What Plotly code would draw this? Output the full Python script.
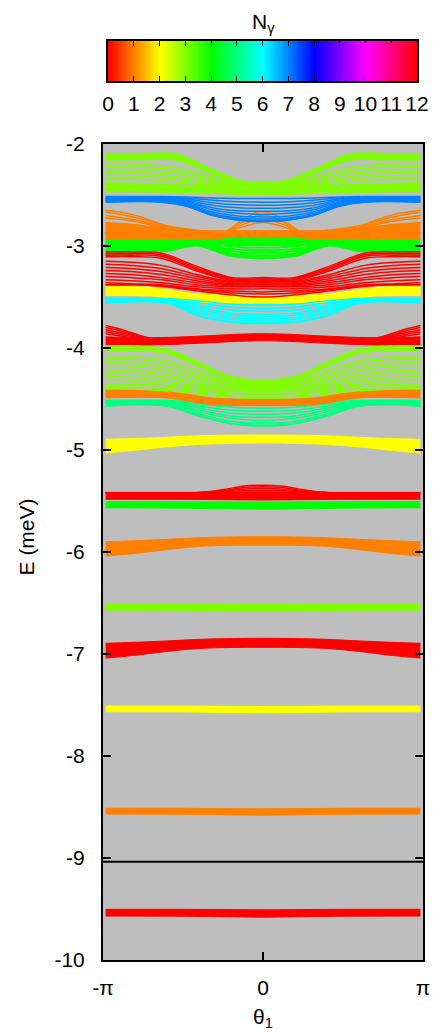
import numpy as np
import plotly.graph_objects as go
from plotly.colors import sample_colorscale

# ---------------- colour scale (N_gamma) ----------------
N_TICKS = list(range(13))
HUES = ['rgb(255,0,0)', 'rgb(255,128,0)', 'rgb(255,255,0)', 'rgb(128,255,0)',
        'rgb(0,255,0)', 'rgb(0,255,128)', 'rgb(0,255,255)', 'rgb(0,128,255)',
        'rgb(0,0,255)', 'rgb(128,0,255)', 'rgb(255,0,255)', 'rgb(255,0,128)',
        'rgb(255,0,0)']
COLORSCALE = [[n / 12, c] for n, c in zip(N_TICKS, HUES)]

E_TICKS = [-10, -9, -8, -7, -6, -5, -4, -3, -2]
E_TICKTEXT = ['-10', '-9', '-8', '-7', '-6', '-5', '-4', '-3', '-2']
THETA_TICKS = [-np.pi, 0.0, np.pi]
THETA_TICKTEXT = ['-π', '0', 'π']
SEPARATOR_E = -9.036

# ------------- bands: E (meV) read at theta knots (theta >= 0, edge -> centre) -------------
# band A, N=3
A_N = 3
A_knots = [3.09, 2.4, 1.7, 1.0, 0.4, 0.0]
A_lines = [
    [-2.095, -2.095, -2.10, -2.25, -2.365, -2.37],
    [-2.105, -2.105, -2.11, -2.26, -2.37, -2.375],
    [-2.115, -2.115, -2.12, -2.265, -2.375, -2.38],
    [-2.125, -2.125, -2.13, -2.27, -2.38, -2.385],
    [-2.135, -2.135, -2.14, -2.275, -2.385, -2.39],
    [-2.145, -2.145, -2.15, -2.28, -2.39, -2.395],
    [-2.155, -2.155, -2.16, -2.29, -2.395, -2.40],
    [-2.19, -2.195, -2.23, -2.32, -2.40, -2.405],
    [-2.22, -2.225, -2.26, -2.34, -2.405, -2.41],
    [-2.25, -2.255, -2.29, -2.36, -2.41, -2.415],
    [-2.28, -2.285, -2.32, -2.38, -2.415, -2.42],
    [-2.31, -2.315, -2.345, -2.395, -2.42, -2.425],
    [-2.34, -2.345, -2.37, -2.41, -2.43, -2.43],
]
A_core_top = [-2.38, -2.385, -2.40, -2.42, -2.435, -2.44]
A_core_bot = [-2.47, -2.47, -2.475, -2.485, -2.495, -2.50]

# band B, N=7
B_N = 7
B_knots = [3.09, 2.0, 1.5, 1.0, 0.5, 0.0]
B_lines = [
    [-2.515, -2.515, -2.52, -2.53, -2.535, -2.535],
    [-2.52, -2.52, -2.53, -2.55, -2.565, -2.57],
    [-2.525, -2.525, -2.54, -2.575, -2.595, -2.60],
    [-2.53, -2.53, -2.55, -2.60, -2.625, -2.63],
    [-2.54, -2.54, -2.56, -2.625, -2.655, -2.66],
    [-2.545, -2.545, -2.57, -2.645, -2.68, -2.69],
    [-2.55, -2.55, -2.58, -2.665, -2.705, -2.715],
    [-2.555, -2.555, -2.59, -2.68, -2.725, -2.735],
    [-2.56, -2.56, -2.60, -2.69, -2.735, -2.75],
    [-2.565, -2.565, -2.605, -2.70, -2.745, -2.76],
    [-2.57, -2.57, -2.61, -2.70, -2.745, -2.76],
]

# band C, N=1
C_N = 1
C_knots = [3.09, 2.5, 1.9, 1.2, 0.6, 0.0]
C_lines = [
    [-2.65, -2.70, -2.80, -2.85, -2.86, -2.86],
    [-2.67, -2.72, -2.81, -2.85, -2.86, -2.86],
    [-2.70, -2.745, -2.82, -2.855, -2.865, -2.865],
    [-2.725, -2.76, -2.83, -2.86, -2.87, -2.87],
]
C_core_top = [-2.77, -2.79, -2.83, -2.855, -2.85, -2.85]
C_core_bot = [-2.94, -2.94, -2.945, -2.95, -2.95, -2.95]
C_arch_knots = [3.09, 0.8, 0.45, 0.15, 0.0]
C_arches = [
    [-2.87, -2.87, -2.76, -2.675, -2.665],
    [-2.87, -2.87, -2.78, -2.71, -2.70],
    [-2.87, -2.87, -2.80, -2.745, -2.735],
    [-2.88, -2.88, -2.82, -2.78, -2.77],
]

# band D, N=4
D_N = 4
D_knots = [3.09, 2.5, 1.9, 1.3, 0.7, 0.3, 0.0]
D_lines = [
    [-2.95, -2.95, -2.95, -2.95, -2.935, -2.925, -2.92],
    [-2.965, -2.965, -2.96, -2.955, -2.95, -2.945, -2.945],
    [-2.98, -2.98, -2.975, -2.96, -2.965, -2.97, -2.97],
    [-2.995, -2.995, -2.985, -2.965, -2.98, -2.99, -2.99],
    [-3.01, -3.01, -3.00, -2.97, -3.00, -3.015, -3.015],
    [-3.025, -3.025, -3.01, -2.975, -3.025, -3.04, -3.04],
    [-3.04, -3.04, -3.02, -2.98, -3.045, -3.065, -3.065],
    [-3.055, -3.05, -3.03, -2.985, -3.065, -3.09, -3.09],
    [-3.07, -3.065, -3.04, -2.99, -3.08, -3.105, -3.11],
    [-3.085, -3.075, -3.05, -2.995, -3.09, -3.115, -3.12],
]

# band E, N=0
E_N = 0
E_knots = [3.09, 2.6, 2.0, 1.3, 0.6, 0.0]
E_lines = [
    [-3.06, -3.06, -3.07, -3.20, -3.31, -3.31],
    [-3.075, -3.075, -3.085, -3.215, -3.32, -3.32],
    [-3.09, -3.09, -3.10, -3.23, -3.33, -3.33],
    [-3.105, -3.105, -3.12, -3.245, -3.34, -3.34],
    [-3.15, -3.16, -3.19, -3.28, -3.35, -3.35],
    [-3.18, -3.19, -3.22, -3.30, -3.36, -3.36],
    [-3.21, -3.22, -3.25, -3.32, -3.37, -3.37],
    [-3.24, -3.25, -3.28, -3.34, -3.38, -3.38],
    [-3.27, -3.28, -3.31, -3.36, -3.39, -3.39],
    [-3.30, -3.31, -3.33, -3.38, -3.40, -3.40],
    [-3.33, -3.34, -3.36, -3.40, -3.42, -3.42],
    [-3.36, -3.37, -3.38, -3.42, -3.44, -3.45],
    [-3.38, -3.38, -3.39, -3.43, -3.46, -3.47],
    [-3.38, -3.38, -3.395, -3.44, -3.48, -3.50],
]

# band F, N=2
F_N = 2
F_knots = [3.09, 2.2, 1.3, 0.5, 0.0]
F_lines = [
    [-3.405, -3.41, -3.475, -3.49, -3.49],
    [-3.42, -3.425, -3.49, -3.505, -3.505],
    [-3.435, -3.44, -3.505, -3.52, -3.52],
    [-3.45, -3.455, -3.52, -3.535, -3.535],
    [-3.465, -3.47, -3.53, -3.545, -3.545],
    [-3.48, -3.485, -3.54, -3.555, -3.555],
]

# band G, N=6
G_N = 6
G_knots = [3.09, 1.9, 1.24, 0.6, 0.0]
G_lines = [
    [-3.515, -3.515, -3.54, -3.57, -3.575],
    [-3.52, -3.52, -3.56, -3.60, -3.61],
    [-3.525, -3.525, -3.58, -3.63, -3.64],
    [-3.53, -3.53, -3.60, -3.66, -3.67],
    [-3.54, -3.54, -3.62, -3.68, -3.695],
    [-3.545, -3.545, -3.64, -3.70, -3.715],
    [-3.55, -3.55, -3.66, -3.72, -3.735],
    [-3.555, -3.555, -3.68, -3.74, -3.75],
    [-3.56, -3.56, -3.69, -3.75, -3.76],
]

# band H, N=0
H_N = 0
H_knots = [3.09, 2.2, 1.3, 0.5, 0.0]
H_core_top = [-3.89, -3.90, -3.885, -3.865, -3.86]
H_core_bot = [-3.97, -3.97, -3.955, -3.935, -3.93]
H_fan_knots = [3.09, 2.7, 2.2, 1.3, 0.0]
H_fan = [
    [-3.78, -3.83, -3.905, -3.905, -3.89],
    [-3.80, -3.845, -3.91, -3.91, -3.895],
    [-3.82, -3.86, -3.915, -3.915, -3.90],
    [-3.84, -3.875, -3.92, -3.92, -3.905],
    [-3.86, -3.89, -3.925, -3.925, -3.91],
]

# band I, N=3
I_N = 3
I_knots = [3.09, 2.5, 1.9, 1.3, 0.7, 0.3, 0.0]
I_lines = [
    [-3.98, -3.98, -4.01, -4.13, -4.27, -4.31, -4.31],
    [-3.995, -3.995, -4.025, -4.145, -4.28, -4.32, -4.32],
    [-4.01, -4.01, -4.04, -4.16, -4.29, -4.33, -4.33],
    [-4.025, -4.025, -4.055, -4.175, -4.30, -4.34, -4.34],
    [-4.07, -4.08, -4.12, -4.22, -4.32, -4.35, -4.35],
    [-4.10, -4.11, -4.15, -4.25, -4.33, -4.36, -4.36],
    [-4.14, -4.15, -4.19, -4.28, -4.35, -4.37, -4.37],
    [-4.17, -4.18, -4.22, -4.30, -4.36, -4.38, -4.38],
    [-4.21, -4.22, -4.26, -4.33, -4.38, -4.39, -4.39],
    [-4.24, -4.25, -4.29, -4.35, -4.39, -4.40, -4.40],
    [-4.28, -4.29, -4.32, -4.37, -4.41, -4.42, -4.42],
    [-4.31, -4.32, -4.35, -4.39, -4.42, -4.43, -4.43],
    [-4.35, -4.355, -4.37, -4.41, -4.44, -4.45, -4.45],
    [-4.38, -4.385, -4.40, -4.43, -4.46, -4.47, -4.47],
    [-4.40, -4.405, -4.42, -4.45, -4.48, -4.49, -4.49],
]

# band J, N=1
J_N = 1
J_knots = [3.09, 1.9, 1.0, 0.0]
J_top = [-4.41, -4.42, -4.49, -4.50]
J_bot = [-4.49, -4.49, -4.555, -4.565]

# band K, N=5
K_N = 5
K_knots = [3.09, 1.9, 1.24, 0.6, 0.0]
K_lines = [
    [-4.515, -4.515, -4.53, -4.55, -4.555],
    [-4.52, -4.52, -4.55, -4.58, -4.59],
    [-4.53, -4.53, -4.57, -4.61, -4.62],
    [-4.535, -4.535, -4.59, -4.64, -4.65],
    [-4.545, -4.545, -4.61, -4.67, -4.68],
    [-4.55, -4.55, -4.63, -4.69, -4.71],
    [-4.56, -4.56, -4.65, -4.72, -4.735],
    [-4.565, -4.565, -4.665, -4.74, -4.755],
    [-4.57, -4.57, -4.67, -4.745, -4.765],
]

# wide arched bands (L: N=2, O: N=1, Q: N=0)
ARCH_knots = [3.09, 2.55, 1.89, 1.24, 0.58, 0.0]
L_N = 2
L_top = [-4.895, -4.888, -4.875, -4.86, -4.854, -4.853]
L_bot = [-5.03, -5.005, -4.97, -4.945, -4.935, -4.93]
O_N = 1
O_top = [-5.899, -5.89, -5.876, -5.86, -5.852, -5.85]
O_bot = [-6.04, -6.016, -5.977, -5.944, -5.934, -5.933]
Q_N = 0
Q_top = [-6.895, -6.886, -6.872, -6.856, -6.848, -6.846]
Q_bot = [-7.04, -7.015, -6.975, -6.945, -6.936, -6.934]

# band M, N=0
M_N = 0
M_knots = [3.09, 1.3, 0.0]
M_top = [-5.415, -5.415, -5.41]
M_bot = [-5.483, -5.485, -5.49]
M_arch_knots = [3.09, 1.3, 0.8, 0.4, 0.0]
M_arches = [
    [-5.42, -5.42, -5.39, -5.355, -5.345],
    [-5.42, -5.42, -5.40, -5.37, -5.36],
    [-5.42, -5.42, -5.405, -5.385, -5.375],
    [-5.42, -5.42, -5.41, -5.40, -5.395],
]

# thin flat bands
FLAT_knots = [3.09, 1.5, 0.0]
N_N = 4
N_top = [-5.507, -5.507, -5.51]
N_bot = [-5.566, -5.57, -5.58]
P_N = 3
P_top = [-6.51, -6.51, -6.515]
P_bot = [-6.57, -6.572, -6.58]
R_N = 2
R_top = [-7.51, -7.51, -7.515]
R_bot = [-7.566, -7.568, -7.577]
S_N = 1
S_top = [-8.513, -8.513, -8.518]
S_bot = [-8.569, -8.571, -8.58]
T_N = 0
T_top = [-9.503, -9.503, -9.508]
T_bot = [-9.569, -9.571, -9.58]

# colour-bar gradient samples
CB_X = np.linspace(0, 12, 241)


def colour(n):
    return sample_colorscale(COLORSCALE, [n / 12])[0]


def mirror(knots, vals):
    xs = [-k for k in knots] + list(reversed(knots))[1:]
    ys = list(vals) + list(reversed(vals))[1:]
    return xs, ys


fig = go.Figure()

fig.add_trace(go.Heatmap(x=CB_X, y=[0, 1], z=[CB_X, CB_X], colorscale=COLORSCALE,
                         zmin=0, zmax=12, showscale=False, zsmooth='best',
                         hoverinfo='skip', xaxis='x2', yaxis='y2'))


def add_lines(n, knots, lines, width=1.5):
    xs, ys = [], []
    for v in lines:
        x, y = mirror(knots, v)
        xs += x + [None]
        ys += y + [None]
    fig.add_trace(go.Scatter(x=xs, y=ys, mode='lines', connectgaps=False,
                             line=dict(color=colour(n), width=width, shape='spline', smoothing=1),
                             hoverinfo='skip', showlegend=False))


def add_fill(n, knots, top, bot):
    c = colour(n)
    x, yb = mirror(knots, bot)
    _, yt = mirror(knots, top)
    fig.add_trace(go.Scatter(x=x, y=yb, mode='lines',
                             line=dict(color=c, width=1, shape='spline', smoothing=1),
                             hoverinfo='skip', showlegend=False))
    fig.add_trace(go.Scatter(x=x, y=yt, mode='lines', fill='tonexty', fillcolor=c,
                             line=dict(color=c, width=1, shape='spline', smoothing=1),
                             hoverinfo='skip', showlegend=False))


# draw order
add_fill(C_N, C_knots, C_core_top, C_core_bot)
add_lines(C_N, C_knots, C_lines)
add_lines(C_N, C_arch_knots, C_arches)
add_lines(B_N, B_knots, B_lines)
add_fill(A_N, A_knots, A_core_top, A_core_bot)
add_lines(A_N, A_knots, A_lines)
add_lines(D_N, D_knots, D_lines, width=2)
add_lines(F_N, F_knots, F_lines, width=2.2)
add_lines(G_N, G_knots, G_lines)
add_lines(E_N, E_knots, E_lines)
add_fill(H_N, H_knots, H_core_top, H_core_bot)
add_lines(H_N, H_fan_knots, H_fan)
add_lines(K_N, K_knots, K_lines)
add_fill(J_N, J_knots, J_top, J_bot)
add_lines(I_N, I_knots, I_lines)
add_fill(L_N, ARCH_knots, L_top, L_bot)
add_fill(M_N, M_knots, M_top, M_bot)
add_lines(M_N, M_arch_knots, M_arches)
add_fill(N_N, FLAT_knots, N_top, N_bot)
add_fill(O_N, ARCH_knots, O_top, O_bot)
add_fill(P_N, FLAT_knots, P_top, P_bot)
add_fill(Q_N, ARCH_knots, Q_top, Q_bot)
add_fill(R_N, FLAT_knots, R_top, R_bot)
add_fill(S_N, FLAT_knots, S_top, S_bot)
add_fill(T_N, FLAT_knots, T_top, T_bot)

fig.add_shape(type='line', xref='x domain', yref='y', x0=0, x1=1,
              y0=SEPARATOR_E, y1=SEPARATOR_E, line=dict(color='black', width=2))

axis_common = dict(showgrid=False, zeroline=False, showline=True, linecolor='black',
                   ticks='inside', tickcolor='black', mirror='ticks', automargin=False)

fig.update_layout(
    template='none',
    width=433, height=1032, autosize=False,
    margin=dict(l=103, r=10, t=41, b=72, pad=0),
    paper_bgcolor='white', plot_bgcolor='#bebebe',
    font=dict(family='Liberation Sans, Arial, sans-serif', size=21, color='black'),
    showlegend=False,
    xaxis=dict(domain=[0, 1], anchor='y', range=[-np.pi, np.pi],
               tickvals=THETA_TICKS, ticktext=THETA_TICKTEXT, ticklen=8, tickwidth=1.5,
               linewidth=2, ticklabelstandoff=8, **axis_common),
    yaxis=dict(domain=[0, 816 / 919], anchor='x', range=[-10, -2],
               tickvals=E_TICKS, ticktext=E_TICKTEXT, ticklen=8, tickwidth=1.5,
               linewidth=2, ticklabelstandoff=12, **axis_common),
    xaxis2=dict(domain=[5 / 320, 314 / 320], anchor='y2', range=[0, 12],
                tickvals=N_TICKS, ticktext=[str(n) for n in N_TICKS], tickangle=0,
                ticklen=5, tickwidth=1.2, linewidth=1.5, ticklabelstandoff=3,
                **axis_common),
    yaxis2=dict(domain=[879 / 919, 1], anchor='x2', range=[0, 1], automargin=False,
                showticklabels=False, showgrid=False, zeroline=False,
                showline=True, linecolor='black', linewidth=1.5, mirror=True, ticks=''),
    annotations=[
        dict(text='N<sub>γ</sub>', xref='paper', yref='paper', x=0.5, y=1.02,
             xanchor='center', yanchor='middle', showarrow=False, font=dict(size=21)),
        dict(text='E (meV)', xref='paper', yref='paper', x=-0.24, y=0.46,
             xanchor='center', yanchor='middle', textangle=-90, showarrow=False,
             font=dict(size=21)),
        dict(text='θ<sub>1</sub>', xref='paper', yref='paper', x=0.5, y=-0.063,
             xanchor='center', yanchor='middle', showarrow=False, font=dict(size=21)),
    ],
)

POST = ("document.documentElement.style.overflow='hidden';"
        "document.body.style.margin='0';document.body.style.overflow='hidden';"
        "var gd=document.getElementById('{plot_id}');"
        "Plotly.relayout(gd,{width:433,height:1032});")

fig.write_html('out.html', config={'responsive': False}, post_script=POST)
